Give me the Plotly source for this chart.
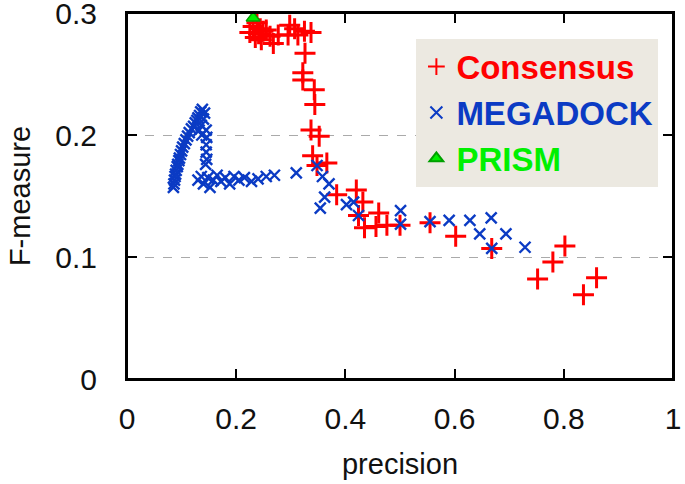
import plotly.graph_objects as go

# Consensus (red +)
cons_x = [0.225, 0.231, 0.235, 0.238, 0.241, 0.244, 0.246, 0.249, 0.255, 0.262, 0.268, 0.277,
          0.295, 0.298, 0.307, 0.313, 0.325, 0.337, 0.326, 0.322, 0.322, 0.343, 0.344, 0.337,
          0.352, 0.340, 0.348, 0.366, 0.384, 0.420, 0.432, 0.424, 0.435, 0.456, 0.461, 0.476,
          0.500, 0.555, 0.602, 0.668, 0.752, 0.780, 0.802, 0.836, 0.860]
cons_y = [0.284, 0.289, 0.280, 0.292, 0.283, 0.287, 0.278, 0.285, 0.286, 0.281, 0.275, 0.282,
          0.282, 0.290, 0.287, 0.282, 0.285, 0.284, 0.267, 0.251, 0.245, 0.237, 0.225, 0.204,
          0.199, 0.183, 0.175, 0.177, 0.151, 0.155, 0.145, 0.134, 0.124, 0.125, 0.136, 0.126,
          0.126, 0.128, 0.117, 0.107, 0.082, 0.096, 0.109, 0.069, 0.083]

# MEGADOCK (blue x)
mega_x = [0.085, 0.086, 0.087, 0.088, 0.089, 0.090, 0.092, 0.093, 0.095, 0.096, 0.098, 0.100,
          0.102, 0.105, 0.108, 0.111, 0.114, 0.118, 0.122, 0.125, 0.128, 0.130, 0.133, 0.135,
          0.138, 0.142, 0.140, 0.136, 0.132, 0.137,
          0.145, 0.146, 0.145, 0.145, 0.146, 0.144,
          0.130, 0.136, 0.140, 0.148, 0.152, 0.158, 0.165, 0.172, 0.180, 0.188, 0.196, 0.205,
          0.215, 0.228, 0.240, 0.255, 0.270, 0.310,
          0.348, 0.358, 0.370, 0.362, 0.354, 0.402, 0.415, 0.424, 0.501, 0.501, 0.555, 0.590,
          0.628, 0.646, 0.667, 0.668, 0.694, 0.729]
mega_y = [0.157, 0.160, 0.163, 0.166, 0.168, 0.171, 0.174, 0.176, 0.179, 0.181, 0.184, 0.187,
          0.190, 0.193, 0.196, 0.199, 0.202, 0.205, 0.207, 0.210, 0.212, 0.214, 0.216, 0.219,
          0.221, 0.218, 0.213, 0.208, 0.204, 0.200,
          0.204, 0.198, 0.192, 0.186, 0.180, 0.176,
          0.163, 0.166, 0.160, 0.165, 0.157, 0.163, 0.167, 0.162, 0.165, 0.160, 0.166, 0.163,
          0.165, 0.162, 0.164, 0.166, 0.167, 0.169,
          0.175, 0.166, 0.160, 0.149, 0.140, 0.143, 0.145, 0.134, 0.138, 0.127, 0.129, 0.130,
          0.130, 0.119, 0.132, 0.107, 0.119, 0.108]

# PRISM (green triangle)
prism_x = [0.231]
prism_y = [0.296]

RED = "#FF0000"
BLUE = "#0B3BC4"
GREEN = "#00F000"
FONT = "Liberation Sans, Arial, sans-serif"

fig = go.Figure()
fig.add_trace(go.Scatter(
    x=cons_x, y=cons_y, mode="markers", cliponaxis=False,
    name=f"<span style='color:{RED}'>Consensus</span>",
    marker=dict(symbol="cross-thin", size=15, line=dict(color=RED, width=3)),
))
fig.add_trace(go.Scatter(
    x=mega_x, y=mega_y, mode="markers", cliponaxis=False,
    name=f"<span style='color:{BLUE}'>MEGADOCK</span>",
    marker=dict(symbol="x-thin", size=11, line=dict(color=BLUE, width=2.4)),
))
fig.add_trace(go.Scatter(
    x=prism_x, y=prism_y, mode="markers", cliponaxis=False,
    name=f"<span style='color:{GREEN}'>PRISM</span>",
    marker=dict(symbol="triangle-up", size=12, color=GREEN, line=dict(color="#00A000", width=1.5)),
))

axis_common = dict(
    showline=True, linecolor="black", linewidth=2, mirror="allticks",
    ticks="inside", ticklen=10, tickwidth=2, tickcolor="black",
    tickfont=dict(family=FONT, size=30, color="#111111"),
    zeroline=False, automargin=False, ticklabeloverflow="allow",
)

fig.update_layout(
    width=685, height=484,
    margin=dict(l=127, r=12, t=13, b=105),
    paper_bgcolor="white", plot_bgcolor="white",
    showlegend=True,
    legend=dict(
        x=0.53, y=0.93, xanchor="left", yanchor="top",
        bgcolor="#ECE9E1", borderwidth=0,
        font=dict(family=FONT, size=33, weight="bold"),
        itemsizing="constant", tracegroupgap=0, itemwidth=30,
    ),
    xaxis=dict(
        range=[0, 1], tickvals=[0, 0.2, 0.4, 0.6, 0.8, 1],
        ticktext=["0", "0.2", "0.4", "0.6", "0.8", "1"],
        showgrid=False, ticklabelstandoff=12,
        title=dict(text="precision", font=dict(family=FONT, size=29, color="#111111"), standoff=20),
        **axis_common,
    ),
    yaxis=dict(
        range=[0, 0.3], tickvals=[0, 0.1, 0.2, 0.3],
        ticktext=["0", "0.1", "0.2", "0.3"],
        showgrid=True, gridcolor="#AAAAAA", griddash="dash", gridwidth=1,
        ticklabelstandoff=22,
        title=dict(text="F-measure", font=dict(family=FONT, size=29, color="#111111"), standoff=16),
        **axis_common,
    ),
)

# plot frame, so the right edge line always shows
fig.add_shape(type="rect", xref="paper", yref="paper", x0=0, y0=0, x1=1, y1=1,
              line=dict(color="black", width=2), layer="above")

# drop the page's default body margin so the figure sits at the window corner
fig.write_html("out.html", config={"displayModeBar": False},
               post_script="document.body.style.margin='0px';")
